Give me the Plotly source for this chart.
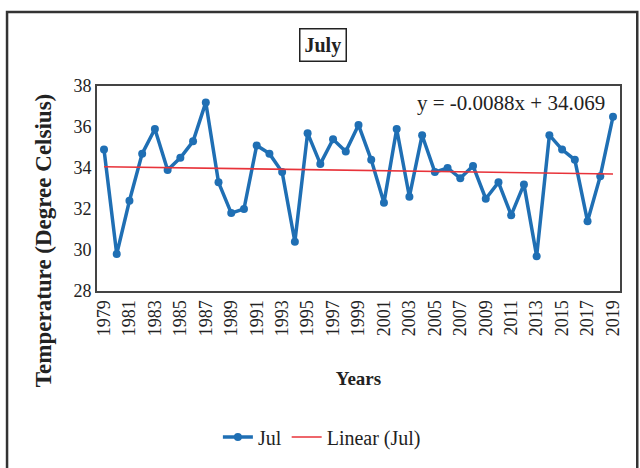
import plotly.graph_objects as go

# Mean July temperature, 1979-2019 (degrees Celsius)
years = list(range(1979, 2020))
jul_temp = [34.9, 29.8, 32.4, 34.7, 35.9, 33.9, 34.5, 35.3, 37.2, 33.3,
            31.8, 32.0, 35.1, 34.7, 33.8, 30.4, 35.7, 34.2, 35.4, 34.8,
            36.1, 34.4, 32.3, 35.9, 32.6, 35.6, 33.8, 34.0, 33.5, 34.1,
            32.5, 33.3, 31.7, 33.2, 29.7, 35.6, 34.9, 34.4, 31.4, 33.6, 36.5]

# Linear trend y = slope * n + intercept, n = 1..41
slope = -0.0088
intercept = 34.069
trend = [slope * (i + 1) + intercept for i in range(len(years))]
equation = "y = -0.0088x + 34.069"

tick_years = list(range(1979, 2020, 2))
y_ticks = [28, 30, 32, 34, 36, 38]

serif = "Liberation Serif, Times New Roman, serif"
ink = "#222222"
blue = "#1f6fb4"
red = "#e8333a"

fig = go.Figure()
fig.add_trace(go.Scatter(
    x=years, y=jul_temp, name="Jul", mode="lines+markers",
    line=dict(color=blue, width=3.5),
    marker=dict(color=blue, size=8),
))
fig.add_trace(go.Scatter(
    x=years, y=trend, name="Linear (Jul)", mode="lines",
    line=dict(color=red, width=1.6),
))

fig.update_layout(
    width=640, height=468,
    margin=dict(l=97, r=20, t=86, b=177),
    paper_bgcolor="white", plot_bgcolor="white",
    font=dict(family=serif, color=ink, size=15),
    showlegend=True,
    legend=dict(orientation="h", x=0.43, y=-0.712, xanchor="center", yanchor="middle",
                font=dict(family=serif, size=20, color=ink),
                tracegroupgap=0),
    xaxis=dict(
        range=[1978.45, 2019.55], tickmode="array", tickvals=tick_years,
        ticktext=[str(y) for y in tick_years], tickangle=-90,
        tickfont=dict(family=serif, size=18, color=ink),
        showgrid=False, zeroline=False, showline=True, mirror=True,
        linecolor="#444444", linewidth=2, ticks="",
        title=dict(text="<b>Years</b>", font=dict(family=serif, size=19, color=ink),
                   standoff=36),
    ),
    yaxis=dict(
        range=[28, 38], tickmode="array", tickvals=y_ticks,
        tickfont=dict(family=serif, size=18, color=ink),
        showgrid=False, zeroline=False, showline=True, mirror=True,
        linecolor="#444444", linewidth=2, ticks="",
    ),
    annotations=[
        dict(text="<b>July</b>", xref="paper", yref="paper", x=0.433, y=1.2,
             xanchor="center", yanchor="middle", showarrow=False,
             font=dict(family=serif, size=20, color=ink),
             bordercolor=ink, borderwidth=1.5, borderpad=4, bgcolor="white"),
        dict(text=equation, xref="paper", yref="paper", x=0.975, y=0.915,
             xanchor="right", yanchor="middle", showarrow=False,
             font=dict(family=serif, size=21, color=ink)),
        dict(text="<b>Temperature (Degree Celsius)</b>", xref="paper", yref="paper",
             x=-0.101, y=0.244, xanchor="center", yanchor="middle", textangle=-90,
             showarrow=False, font=dict(family=serif, size=23, color=ink)),
    ],
    shapes=[
        dict(type="rect", xref="paper", yref="paper",
             x0=-0.172, x1=1.033, y0=-0.9, y1=1.361,
             line=dict(color="#333333", width=2.5), layer="below"),
    ],
)

fig.write_html("out.html")
